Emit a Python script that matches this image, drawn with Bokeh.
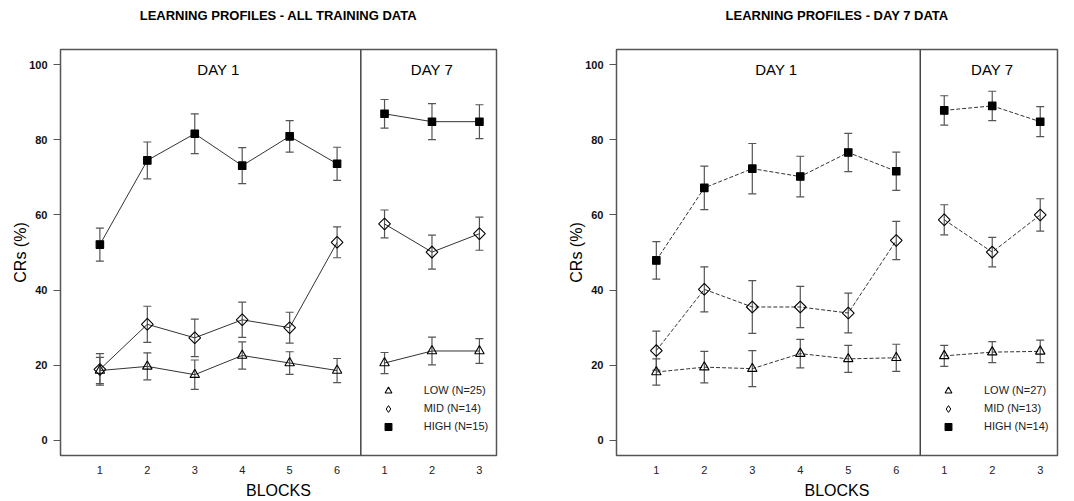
from bokeh.plotting import figure
from bokeh.models import (ColumnDataSource, Whisker, TeeHead, Span, Label,
                          Legend, LegendItem, FixedTicker, LinearAxis)
from bokeh.layouts import row
from bokeh.embed import file_html
from bokeh.resources import INLINE

# ---------------- data ----------------
day1_blocks = ["1", "2", "3", "4", "5", "6"]
day7_blocks = ["1", "2", "3"]
groups = ["LOW", "MID", "HIGH"]
y_ticks = [0, 20, 40, 60, 80, 100]

# Panel A: all training data
n_all = [25, 14, 15]
low_all = [18.6, 19.7, 17.5, 22.6, 20.6, 18.6, 20.6, 23.8, 23.8]
low_all_se = [3.5, 3.6, 3.9, 3.6, 3.0, 3.2, 2.8, 3.7, 3.3]
mid_all = [18.9, 30.9, 27.3, 32.1, 30.0, 52.7, 57.6, 50.1, 55.0]
mid_all_se = [4.2, 4.8, 5.0, 4.7, 4.1, 4.1, 3.7, 4.5, 4.4]
high_all = [52.1, 74.5, 81.6, 73.1, 80.9, 73.6, 86.9, 84.8, 84.8]
high_all_se = [4.4, 4.9, 5.3, 4.8, 4.2, 4.4, 3.8, 4.8, 4.5]

# Panel B: day 7 data
n_d7 = [27, 13, 14]
low_d7 = [18.2, 19.5, 19.1, 23.1, 21.7, 22.0, 22.5, 23.5, 23.7]
low_d7_se = [3.5, 4.2, 4.8, 3.8, 3.6, 3.6, 2.8, 2.8, 3.0]
mid_d7 = [23.9, 40.2, 35.5, 35.5, 33.9, 53.2, 58.7, 50.1, 60.0]
mid_d7_se = [5.2, 6.0, 7.0, 5.5, 5.3, 5.1, 4.0, 3.9, 4.3]
high_d7 = [47.9, 67.2, 72.3, 70.2, 76.6, 71.6, 87.8, 89.0, 84.8]
high_d7_se = [5.0, 5.8, 6.7, 5.4, 5.1, 5.1, 3.9, 3.9, 4.0]

FONT = "Liberation Sans"
LINE_C = "#333333"
ERR_C = "#555555"
FRAME_H = 406


def make_panel(title, series, ns, dash, border_left, frame_w, border_right, legend_x):
    n1 = len(day1_blocks)
    n7 = len(day7_blocks)
    xs = list(range(1, n1 + n7 + 1))
    p = figure(frame_width=frame_w, frame_height=FRAME_H,
               x_range=(0.17, 9.36), y_range=(-4, 104),
               output_backend="svg", toolbar_location=None,
               min_border_left=border_left, min_border_right=border_right,
               min_border_top=49, min_border_bottom=38)
    p.grid.visible = False
    p.outline_line_color = "#555555"
    p.outline_line_width = 1.5
    p.background_fill_color = "white"
    p.border_fill_color = "white"

    # panel title drawn as the label of a tick-less top axis
    top = LinearAxis(ticker=FixedTicker(ticks=[]), axis_line_color=None,
                     major_tick_out=0, major_tick_in=0,
                     minor_tick_out=0, minor_tick_in=0,
                     axis_label=title, axis_label_standoff=27,
                     axis_label_text_font=FONT, axis_label_text_font_size="13px",
                     axis_label_text_font_style="bold", axis_label_text_color="black")
    p.add_layout(top, "above")

    markers = [
        dict(marker="triangle", size=9.5, angle=0.0, fill_color=None),
        dict(marker="square", size=8.3, angle=0.785398, fill_color=None),
        dict(marker="square", size=7.5, angle=0.0, fill_color="black"),
    ]
    items = []
    for (vals, se), mk, g, n in zip(series, markers, groups, ns):
        src = ColumnDataSource(dict(
            x=xs, y=vals,
            lo=[v - e for v, e in zip(vals, se)],
            hi=[v + e for v, e in zip(vals, se)]))
        w = Whisker(source=src, base="x", upper="hi", lower="lo",
                    dimension="height", line_color=ERR_C, line_width=1.2,
                    upper_head=TeeHead(size=8, line_color=ERR_C, line_width=1.2),
                    lower_head=TeeHead(size=8, line_color=ERR_C, line_width=1.2))
        p.add_layout(w)
        p.line(xs[:n1], vals[:n1], line_color=LINE_C, line_width=1, line_dash=dash)
        p.line(xs[n1:], vals[n1:], line_color=LINE_C, line_width=1, line_dash=dash)
        r = p.scatter("x", "y", source=src, marker=mk["marker"], size=mk["size"],
                      angle=mk["angle"], line_color="black", line_width=1.1,
                      fill_color=mk["fill_color"])
        if mk["angle"] != 0.0:
            # legend ignores marker angle: use a hidden diamond renderer for the key
            r = p.scatter("x", "y", source=src, marker="diamond", size=mk["size"],
                          line_color="black", line_width=1.0, fill_color=None,
                          visible=False)
        items.append(LegendItem(label=f"{g} (N={n})", renderers=[r]))

    p.add_layout(Span(location=n1 + 0.5, dimension="height",
                      line_color="#444444", line_width=1.5))

    day_y = 98.6
    p.add_layout(Label(x=sum(xs[:n1]) / n1, y=day_y, text="DAY 1",
                       text_align="center", text_baseline="middle",
                       text_font=FONT, text_font_size="15px", text_color="black"))
    p.add_layout(Label(x=sum(xs[n1:]) / n7, y=day_y, text="DAY 7",
                       text_align="center", text_baseline="middle",
                       text_font=FONT, text_font_size="15px", text_color="black"))

    leg = Legend(items=items, location=(legend_x, 20.5),
                 border_line_color=None, background_fill_alpha=0,
                 padding=0, margin=0, glyph_width=20, glyph_height=17,
                 label_height=17, spacing=1, label_standoff=26,
                 label_text_font=FONT, label_text_font_size="11px",
                 label_text_color="#222222",
                 inactive_fill_alpha=0, click_policy="none")
    p.add_layout(leg)

    # axes
    xa = p.below[0]
    xa.ticker = FixedTicker(ticks=xs)
    xa.major_label_overrides = {x: lab for x, lab in zip(xs, day1_blocks + day7_blocks)}
    xa.axis_line_color = None
    xa.major_tick_out = 0
    xa.major_tick_in = 0
    xa.minor_tick_out = 0
    xa.minor_tick_in = 0
    xa.major_label_standoff = 10
    xa.major_label_text_font = FONT
    xa.major_label_text_font_size = "11px"
    xa.major_label_text_color = "#222222"
    xa.axis_label = "BLOCKS"
    xa.axis_label_text_font = FONT
    xa.axis_label_text_font_size = "16px"
    xa.axis_label_text_font_style = "normal"
    xa.axis_label_text_color = "black"
    xa.axis_label_standoff = 5

    p.yaxis.ticker = FixedTicker(ticks=y_ticks)
    p.yaxis.axis_line_color = None
    p.yaxis.major_tick_out = 7
    p.yaxis.major_tick_in = 0
    p.yaxis.minor_tick_out = 0
    p.yaxis.minor_tick_in = 0
    p.yaxis.major_tick_line_color = "#555555"
    p.yaxis.major_label_standoff = 6
    p.yaxis.major_label_text_font = FONT
    p.yaxis.major_label_text_font_size = "11px"
    p.yaxis.major_label_text_font_style = "bold"
    p.yaxis.major_label_text_color = "#111111"
    p.yaxis.axis_label = "CRs (%)"
    p.yaxis.axis_label_text_font = FONT
    p.yaxis.axis_label_text_font_size = "16px"
    p.yaxis.axis_label_text_font_style = "normal"
    p.yaxis.axis_label_text_color = "black"
    p.yaxis.axis_label_standoff = -3
    return p


p1 = make_panel("LEARNING PROFILES - ALL TRAINING DATA",
                [(low_all, low_all_se), (mid_all, mid_all_se), (high_all, high_all_se)],
                n_all, "solid", 60, 436, 44, 317.7)
p2 = make_panel("LEARNING PROFILES - DAY 7 DATA",
                [(low_d7, low_d7_se), (mid_d7, mid_d7_se), (high_d7, high_d7_se)],
                n_d7, "4 2", 76, 441, 9, 322)

p = row(p1, p2)
open("out.html", "w").write(file_html(p, INLINE))
